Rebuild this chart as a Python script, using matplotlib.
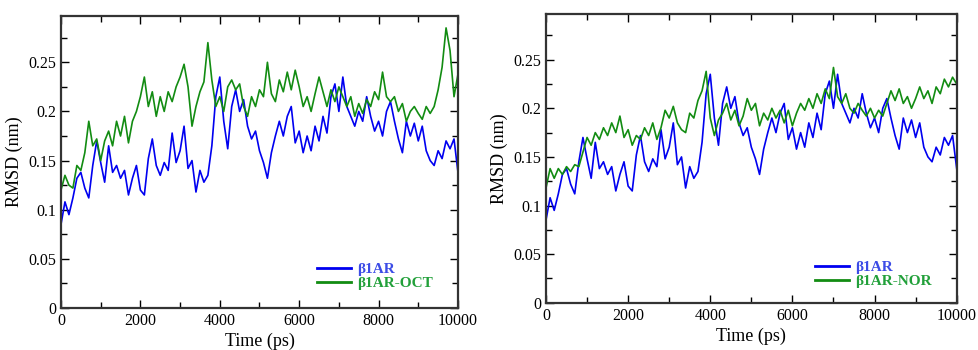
import matplotlib
matplotlib.use('Agg')
import matplotlib.pyplot as plt
import numpy as np
from matplotlib.ticker import MultipleLocator

plt.rcParams['font.family'] = ['Liberation Serif', 'DejaVu Serif']

# time axis, one value every 100 ps
time_ps = np.arange(0, 10001, 100)

# beta1AR (apo), same trace in both panels
rmsd_b1ar = [
    0.085, 0.108, 0.095, 0.112, 0.132, 0.138, 0.122, 0.112, 0.145, 0.170,
    0.148, 0.128, 0.165, 0.138, 0.145, 0.132, 0.140, 0.115, 0.132, 0.145,
    0.120, 0.115, 0.152, 0.172, 0.145, 0.135, 0.148, 0.140, 0.178, 0.148,
    0.160, 0.185, 0.142, 0.150, 0.118, 0.140, 0.128, 0.135, 0.165, 0.215,
    0.235, 0.190, 0.162, 0.205, 0.222, 0.200, 0.212, 0.185, 0.172, 0.180,
    0.160, 0.148, 0.132, 0.158, 0.175, 0.190, 0.175, 0.195, 0.205, 0.168,
    0.180, 0.158, 0.175, 0.160, 0.185, 0.170, 0.195, 0.178, 0.215, 0.228,
    0.200, 0.235, 0.205, 0.195, 0.185, 0.200, 0.190, 0.215, 0.195, 0.180,
    0.190, 0.175, 0.200, 0.210, 0.190, 0.172, 0.158, 0.190, 0.175, 0.188,
    0.170, 0.185, 0.160, 0.150, 0.145, 0.160, 0.152, 0.170, 0.162, 0.172,
    0.138,
]

# beta1AR with octopamine
rmsd_oct = [
    0.120, 0.135, 0.125, 0.122, 0.145, 0.140, 0.158, 0.190, 0.165, 0.172,
    0.150, 0.170, 0.180, 0.165, 0.190, 0.175, 0.195, 0.168, 0.190, 0.200,
    0.215, 0.235, 0.205, 0.220, 0.195, 0.215, 0.200, 0.220, 0.210, 0.225,
    0.235, 0.248, 0.225, 0.185, 0.205, 0.220, 0.230, 0.270, 0.232, 0.205,
    0.215, 0.200, 0.225, 0.232, 0.222, 0.228, 0.205, 0.195, 0.215, 0.205,
    0.222, 0.215, 0.250, 0.218, 0.210, 0.232, 0.220, 0.240, 0.222, 0.242,
    0.225, 0.205, 0.215, 0.200, 0.218, 0.235, 0.220, 0.205, 0.222, 0.210,
    0.225, 0.215, 0.205, 0.215, 0.195, 0.208, 0.198, 0.212, 0.205, 0.220,
    0.212, 0.240, 0.215, 0.210, 0.215, 0.200, 0.208, 0.190, 0.200, 0.205,
    0.198, 0.192, 0.205, 0.198, 0.205, 0.222, 0.245, 0.285, 0.262, 0.215,
    0.238,
]

# beta1AR with norepinephrine
rmsd_nor = [
    0.118, 0.138, 0.128, 0.138, 0.132, 0.140, 0.135, 0.142, 0.140, 0.155,
    0.170, 0.162, 0.175, 0.168, 0.180, 0.172, 0.185, 0.175, 0.192, 0.170,
    0.178, 0.162, 0.172, 0.168, 0.180, 0.172, 0.185, 0.168, 0.180, 0.198,
    0.190, 0.202, 0.185, 0.178, 0.175, 0.195, 0.190, 0.208, 0.218, 0.238,
    0.190, 0.172, 0.188, 0.195, 0.205, 0.188, 0.198, 0.182, 0.192, 0.210,
    0.198, 0.205, 0.182, 0.195, 0.188, 0.200, 0.190, 0.198, 0.185, 0.198,
    0.182, 0.195, 0.205, 0.198, 0.210, 0.200, 0.215, 0.205, 0.220, 0.210,
    0.242, 0.212, 0.205, 0.215, 0.200, 0.195, 0.205, 0.198, 0.192, 0.200,
    0.190, 0.198, 0.192, 0.205, 0.218, 0.208, 0.220, 0.205, 0.212, 0.200,
    0.210, 0.222, 0.210, 0.218, 0.205, 0.222, 0.215, 0.230, 0.222, 0.232,
    0.225,
]

C_BLUE = '#0000f0'; C_GREEN = '#128c12'
T_BLUE = '#3c4ce6'; T_GREEN = '#22a03a'

fig = plt.figure(figsize=(9.79, 3.5), dpi=100)
ax1 = fig.add_axes([0.0623, 0.12, 0.4055, 0.834])
ax2 = fig.add_axes([0.5577, 0.135, 0.4195, 0.825])

panels = [(ax1, rmsd_oct, '\u03b21AR-OCT', (0.645, 0.06)),
          (ax2, rmsd_nor, '\u03b21AR-NOR', (0.655, 0.05))]

for ax, green, glabel, lpos in panels:
    ax.plot(time_ps, rmsd_b1ar, color=C_BLUE, lw=1.2, label='\u03b21AR')
    ax.plot(time_ps, green, color=C_GREEN, lw=1.2, label=glabel)
    ax.set_xlim(0, 10000); ax.set_ylim(0, 0.297)
    ax.xaxis.set_major_locator(MultipleLocator(2000))
    ax.xaxis.set_minor_locator(MultipleLocator(1000))
    ax.yaxis.set_major_locator(MultipleLocator(0.05))
    ax.yaxis.set_minor_locator(MultipleLocator(0.025))
    ax.set_yticks([0, 0.05, 0.1, 0.15, 0.2, 0.25])
    ax.set_yticklabels(['0', '0.05', '0.1', '0.15', '0.2', '0.25'])
    ax.tick_params(which='both', direction='in', top=True, right=True,
                   labelsize=11.5, width=1)
    ax.tick_params(which='major', length=6)
    ax.tick_params(which='minor', length=4)
    for s in ax.spines.values():
        s.set_linewidth(1.6); s.set_color('#333333')
    ax.set_xlabel('Time (ps)', fontsize=13, labelpad=3)
    ax.set_ylabel('RMSD (nm)', fontsize=13, labelpad=4)
    leg = ax.legend(loc='lower left', bbox_to_anchor=lpos, frameon=False,
                    handlelength=2.2, handletextpad=0.45, labelspacing=0.05,
                    borderaxespad=0, borderpad=0,
                    labelcolor=[T_BLUE, T_GREEN],
                    prop={'weight': 'bold', 'size': 11})
    for h in leg.get_lines():
        h.set_linewidth(2)

fig.savefig('out.png', dpi=100, facecolor='white')
